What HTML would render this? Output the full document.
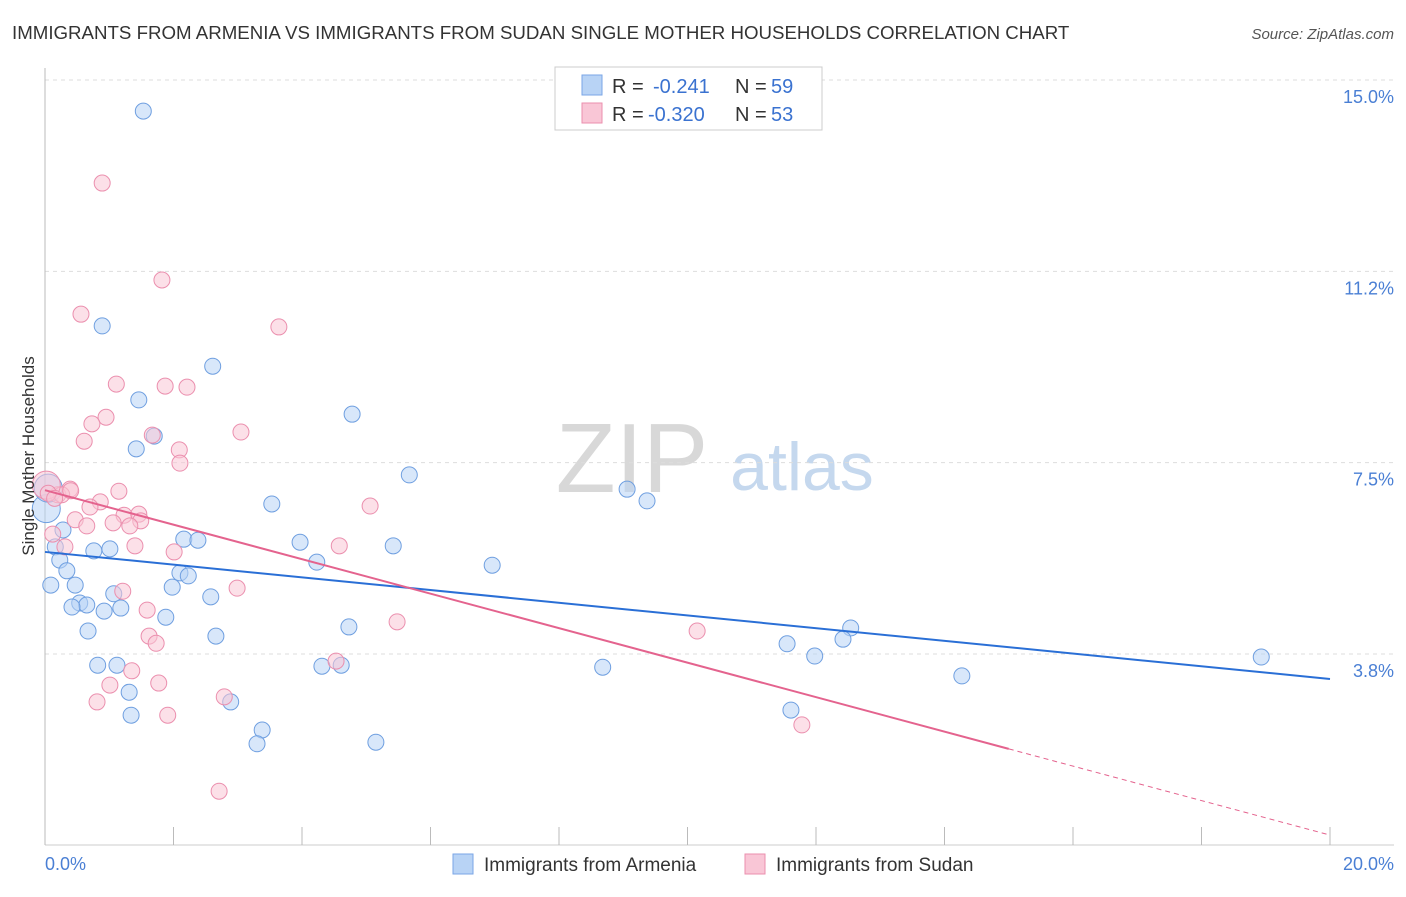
<!DOCTYPE html>
<html><head><meta charset="utf-8"><style>
body{margin:0;background:#fff;font-family:"Liberation Sans",sans-serif;}
svg text{font-family:"Liberation Sans",sans-serif;}
</style></head><body>
<svg id="chart" width="1406" height="892" xmlns="http://www.w3.org/2000/svg">
<text x="12" y="39" font-size="18.7" fill="#333">IMMIGRANTS FROM ARMENIA VS IMMIGRANTS FROM SUDAN SINGLE MOTHER HOUSEHOLDS CORRELATION CHART</text>
<text x="1394" y="39" font-size="15" fill="#555" text-anchor="end" font-style="italic">Source: ZipAtlas.com</text>
<g>
<text x="632" y="492" font-size="98" fill="#d8d8d8" text-anchor="middle" font-family="Liberation Serif,serif">ZIP</text>
<text x="802" y="490" font-size="68" fill="#c5d8ee" text-anchor="middle">atlas</text>
</g>
<g id="grid"></g><g id="axes"></g><g id="marks"></g><g id="lines"></g>
<text transform="translate(34,456) rotate(-90)" font-size="17" fill="#333" text-anchor="middle">Single Mother Households</text>
<text x="45" y="870" font-size="18" fill="#4a7fd4">0.0%</text>
<text x="1394" y="870" font-size="18" fill="#4a7fd4" text-anchor="end">20.0%</text>
<g>
<rect x="555" y="67" width="267" height="63" fill="#fff" stroke="#ccc"/>
<rect x="582" y="75" width="20" height="20" fill="#b8d3f5" stroke="#7aa6e6"/>
<rect x="582" y="103" width="20" height="20" fill="#f9c6d6" stroke="#eb8fae"/>
<text x="612" y="93" font-size="20" fill="#333">R =</text>
<text x="653" y="93" font-size="20" fill="#3a72d0">-0.241</text>
<text x="735" y="93" font-size="20" fill="#333">N =</text>
<text x="771" y="93" font-size="20" fill="#3a72d0">59</text>
<text x="612" y="121" font-size="20" fill="#333">R =</text>
<text x="648" y="121" font-size="20" fill="#3a72d0">-0.320</text>
<text x="735" y="121" font-size="20" fill="#333">N =</text>
<text x="771" y="121" font-size="20" fill="#3a72d0">53</text>
</g>
<g>
<rect x="453" y="854" width="20" height="20" fill="#b8d3f5" stroke="#7aa6e6"/>
<text x="484" y="871" font-size="19" fill="#333">Immigrants from Armenia</text>
<rect x="745" y="854" width="20" height="20" fill="#f9c6d6" stroke="#eb8fae"/>
<text x="776" y="871" font-size="19" fill="#333">Immigrants from Sudan</text>
</g>
</svg>
<script>
const yTicks=[15.0,11.25,7.5,3.75];
const yTickLabels=["15.0%","11.2%","7.5%","3.8%"];
const armeniaX=[1.53,0.89,2.61,1.46,4.78,1.42,1.70,5.67,9.06,9.37,3.53,0.28,2.16,2.38,3.97,5.42,0.16,0.76,1.01,6.96,4.23,0.23,0.34,2.10,2.23,0.47,0.09,1.98,2.58,1.07,0.54,0.65,0.42,0.92,1.18,1.88,4.73,12.54,12.42,0.67,2.66,11.55,11.98,18.93,0.82,1.12,4.31,4.61,8.68,14.27,1.31,2.89,11.61,1.34,3.38,3.30,5.15,0.02,0.05];
const armeniaY=[14.39,10.18,9.39,8.73,8.45,7.77,8.02,7.26,6.98,6.75,6.69,6.18,6.00,5.98,5.94,5.87,5.85,5.77,5.81,5.49,5.55,5.59,5.38,5.34,5.28,5.10,5.10,5.06,4.87,4.93,4.75,4.71,4.67,4.59,4.65,4.47,4.28,4.26,4.04,4.20,4.10,3.95,3.71,3.69,3.53,3.53,3.51,3.53,3.49,3.32,3.00,2.81,2.65,2.55,2.26,1.99,2.02,6.6,7.0];
const sudanX=[0.89,1.82,0.56,3.64,1.11,1.87,2.21,0.95,0.73,1.67,3.05,0.61,2.09,2.10,1.15,0.39,0.20,0.26,0.86,0.70,5.06,1.23,1.46,0.47,1.06,0.65,1.49,1.32,1.40,4.58,0.31,2.01,1.21,2.99,1.59,5.48,10.15,1.62,1.73,4.53,1.35,1.01,1.77,2.79,0.81,1.91,11.78,2.71,0.02,0.05,0.15,0.40,0.12];
const sudanY=[12.98,11.08,10.41,10.16,9.04,9.00,8.98,8.39,8.26,8.04,8.10,7.92,7.75,7.49,6.94,6.98,6.87,6.87,6.73,6.63,6.65,6.47,6.49,6.38,6.32,6.26,6.36,6.26,5.87,5.87,5.85,5.75,4.98,5.04,4.61,4.38,4.20,4.10,3.96,3.61,3.42,3.14,3.18,2.91,2.81,2.55,2.36,1.06,7.06,6.9,6.8,6.95,6.1];
const armeniaTrend=[5.75,3.26];
const sudanTrend=[6.96,0.20];
const sudanSolidEnd=15.0;
const X=v=>45+v*64.25, Y=v=>80+(15-v)*51.02;
const NS="http://www.w3.org/2000/svg";
function mk(parent,tag,attrs){const e=document.createElementNS(NS,tag);for(const k in attrs)e.setAttribute(k,attrs[k]);document.getElementById(parent).appendChild(e);return e;}
yTicks.forEach((t,i)=>{
 const g=mk('grid','line',{x1:45,x2:1394,y1:Y(t),y2:Y(t),stroke:'#ddd','stroke-dasharray':'4,4'});
 
 
 const l=mk('grid','text',{x:1394,y:Y(t)+23,'font-size':18,fill:'#4a7fd4','text-anchor':'end'});l.textContent=yTickLabels[i];
 
 
});
const a1=mk('axes','line',{x1:45,x2:45,y1:68,y2:845,stroke:'#bbb'});


const a2=mk('axes','line',{x1:45,x2:1394,y1:845,y2:845,stroke:'#ccc'});


for(let i=0;i<=10;i++){const t=mk('axes','line',{x1:X(i*2),x2:X(i*2),y1:827,y2:845,stroke:'#bbb'});
 
 }
armeniaX.forEach((x,i)=>{const big=i>=57;const c=mk('marks','circle',{cx:X(x),cy:Y(armeniaY[i]),r:big?14:8,fill:'#b8d3f5','fill-opacity':0.55,stroke:'#6f9fe0','stroke-width':1});
 
 });
sudanX.forEach((x,i)=>{const big=i==48;const c=mk('marks','circle',{cx:X(x),cy:Y(sudanY[i]),r:big?14:8,fill:'#f9c6d6','fill-opacity':0.55,stroke:'#eb8fae','stroke-width':1});
 
 });
const bl=mk('lines','line',{x1:X(0),y1:Y(armeniaTrend[0]),x2:X(20),y2:Y(armeniaTrend[1]),stroke:'#2a6fd6','stroke-width':2});


const sy=v=>sudanTrend[0]+(sudanTrend[1]-sudanTrend[0])*v/20;
const pl=mk('lines','line',{x1:X(0),y1:Y(sy(0)),x2:X(sudanSolidEnd),y2:Y(sy(sudanSolidEnd)),stroke:'#e4638e','stroke-width':2});


const pd=mk('lines','line',{x1:X(sudanSolidEnd),y1:Y(sy(sudanSolidEnd)),x2:X(20),y2:Y(sy(20)),stroke:'#e4638e','stroke-width':1,'stroke-dasharray':'5,4'});


</script>
</body></html>
